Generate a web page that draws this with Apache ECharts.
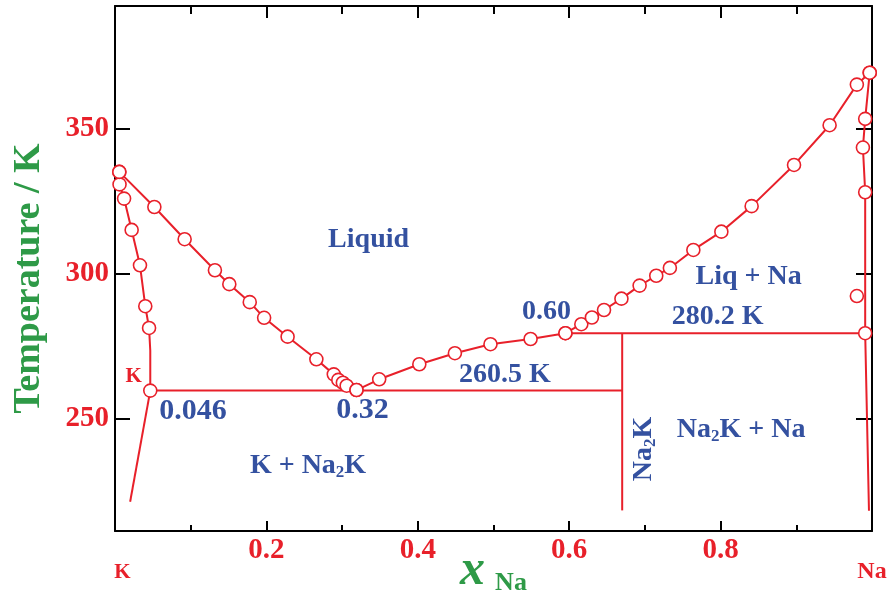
<!DOCTYPE html>
<html>
<head>
<meta charset="utf-8">
<script src="https://cdn.jsdelivr.net/npm/echarts@6/dist/echarts.min.js"></script>
<style>html,body{margin:0;padding:0;background:#fff}#c{width:891px;height:598px}</style>
</head>
<body>
<div id="c"></div>
<script>
// ---- data (x_Na, Temperature / K) ----
// K-rich solidus (marked points; index 7 is an unmarked bend)
const kSolidusX = [0.0057, 0.006, 0.012, 0.022, 0.033, 0.040, 0.045, 0.0466, 0.0466];
const kSolidusT = [335.1, 330.8, 325.9, 315.1, 302.9, 288.8, 281.3, 273.5, 259.7];
const kSolidusMarked = [1, 1, 1, 1, 1, 1, 1, 0, 1];
// K solidus below eutectic (no markers)
const kSolidusLowX = [0.0466, 0.020];
const kSolidusLowT = [259.7, 221.4];
// Liquidus, K side
const kLiquidusX = [0.0057, 0.052, 0.092, 0.132, 0.151, 0.178, 0.197, 0.228, 0.266, 0.289, 0.295, 0.301, 0.306, 0.319];
const kLiquidusT = [335.1, 323.0, 311.9, 301.2, 296.4, 290.2, 284.8, 278.3, 270.5, 265.3, 263.4, 262.4, 261.4, 259.9];
// Liquidus, Na2K branch
const na2kLiquidusX = [0.319, 0.349, 0.402, 0.449, 0.496, 0.549, 0.595];
const na2kLiquidusT = [259.9, 263.6, 268.8, 272.6, 275.7, 277.5, 279.5];
// Liquidus, Na side
const naLiquidusX = [0.595, 0.616, 0.630, 0.646, 0.669, 0.693, 0.715, 0.733, 0.764, 0.801, 0.841, 0.897, 0.944, 0.980, 0.997];
const naLiquidusT = [279.5, 282.6, 284.9, 287.5, 291.4, 295.9, 299.3, 302.0, 308.2, 314.5, 323.3, 337.5, 351.2, 365.2, 369.3];
// Na-rich solidus (last point unmarked)
const naSolidusX = [0.997, 0.991, 0.988, 0.991, 0.991, 0.996];
const naSolidusT = [369.3, 353.4, 343.5, 328.1, 279.5, 218.3];
const naSolidusMarked = [1, 1, 1, 1, 1, 0];
// isolated measured point
const naExtraX = [0.980];
const naExtraT = [292.3];
// invariant lines
const eutecticX = [0.0466, 0.670];
const eutecticT = [259.7, 259.7];
const peritecticX = [0.595, 0.991];
const peritecticT = [279.5, 279.5];
const na2kLineX = [0.670, 0.670];
const na2kLineT = [279.5, 218.4];

// axis ticks / labels
const xTickValues = [0, 0.2, 0.4, 0.6, 0.8, 1];
const xTickLabels = ['K', '0.2', '0.4', '0.6', '0.8', 'Na'];
const yTickValues = [250, 300, 350];
const yTickLabels = ['250', '300', '350'];

// annotations
const annoText = ['Liquid', 'Liq + Na', '280.2 K', '0.60', '260.5 K', '0.32', '0.046', 'K', 'K + Na{sub|2}K', 'Na{sub|2}K + Na', 'Na{sub|2}K'];
const annoX = [0.335, 0.837, 0.796, 0.570, 0.515, 0.327, 0.103, 0.0246, 0.255, 0.827, 0.698];
const annoT = [311.7, 298.9, 285.2, 286.8, 265.3, 252.8, 252.7, 264.4, 233.7, 246.1, 239.6];

// ---- styles ----
const RED = '#e8202a', GREEN = '#2e9a47', BLUE = '#3451a0';
const SERIF = "'Liberation Serif','Times New Roman',serif";

function pairs(xs, ts) { return xs.map((x, i) => [x, ts[i]]); }
function markedPairs(xs, ts, marks) {
  return xs.map((x, i) => marks[i] ? [x, ts[i]] : null).filter(p => p);
}

const lineStyle = { color: RED, width: 2 };
function lineSeries(xs, ts) {
  return { type: 'line', data: pairs(xs, ts), symbol: 'none', lineStyle: lineStyle,
    clip: false, z: 2, silent: true, animation: false };
}
const markerData = []
  .concat(markedPairs(kSolidusX, kSolidusT, kSolidusMarked))
  .concat(pairs(kLiquidusX, kLiquidusT))
  .concat(pairs(na2kLiquidusX, na2kLiquidusT))
  .concat(pairs(naLiquidusX, naLiquidusT))
  .concat(markedPairs(naSolidusX, naSolidusT, naSolidusMarked))
  .concat(pairs(naExtraX, naExtraT));

const subStyle = { fontSize: 17, fontWeight: 'bold', fontFamily: SERIF, color: BLUE, padding: [14, 0, 0, 0] };
const annoData = annoText.map((t, i) => {
  const item = { value: [annoX[i], annoT[i]], name: t };
  if (t === 'K') item.label = { color: RED, fontSize: 21 };
  if (t === '0.046' || t === '0.32') item.label = { fontSize: 30 };
  if (i === annoText.length - 1) item.label = { rotate: 90 };
  return item;
});

const tickStyle = { color: '#000', width: 2 };
const chart = echarts.init(document.getElementById('c'), null, { renderer: 'canvas' });
chart.setOption({
  animation: false,
  backgroundColor: '#fff',
  grid: { left: 115, right: 19, top: 6, bottom: 67, containLabel: false, outerBoundsMode: 'none' },
  xAxis: [{
    type: 'value', min: 0, max: 1, interval: 0.2, position: 'bottom',
    axisLine: { show: true, onZero: false, lineStyle: tickStyle },
    axisTick: { show: true, inside: true, length: 10, lineStyle: tickStyle },
    minorTick: { show: true, splitNumber: 2, length: 6, lineStyle: tickStyle },
    splitLine: { show: false }, minorSplitLine: { show: false },
    axisLabel: {
      customValues: xTickValues,
      formatter: v => {
        const i = xTickValues.findIndex(t => Math.abs(t - v) < 1e-9);
        const s = i >= 0 ? xTickLabels[i] : '';
        if (i === 0) return '{k|' + s + '}';
        if (i === xTickValues.length - 1) return '{na|' + s + '}';
        return s;
      },
      color: RED, fontSize: 29, fontWeight: 'bold', fontFamily: SERIF, margin: 5,
      rich: {
        k: { color: RED, fontSize: 21, fontWeight: 'bold', fontFamily: SERIF, padding: [26, 0, 0, 15] },
        na: { color: RED, fontSize: 24, fontWeight: 'bold', fontFamily: SERIF, padding: [24, 0, 0, 0] }
      }
    },
    name: '{x|x}{n|Na}', nameLocation: 'middle', nameGap: 15, nameMoveOverlap: false,
    nameTextStyle: {
      rich: {
        x: { color: GREEN, fontSize: 50, fontWeight: 'bold', fontStyle: 'italic', fontFamily: SERIF },
        n: { color: GREEN, fontSize: 26, fontWeight: 'bold', fontFamily: SERIF, padding: [24, 0, 0, 10] }
      }
    }
  }, {
    type: 'value', min: 0, max: 1, interval: 0.2, position: 'top',
    axisLine: { show: true, onZero: false, lineStyle: tickStyle },
    axisTick: { show: true, inside: true, length: 12, lineStyle: tickStyle },
    minorTick: { show: true, splitNumber: 2, length: 8, lineStyle: tickStyle },
    splitLine: { show: false }, minorSplitLine: { show: false },
    axisLabel: { show: false }
  }],
  yAxis: [{
    type: 'value', min: 211.3, max: 392.3, position: 'left',
    axisLine: { show: true, onZero: false, lineStyle: tickStyle },
    axisTick: { show: true, inside: true, length: 15, customValues: yTickValues, lineStyle: tickStyle },
    splitLine: { show: false },
    axisLabel: {
      customValues: yTickValues,
      formatter: v => { const i = yTickValues.indexOf(v); return i >= 0 ? yTickLabels[i] : ''; },
      color: RED, fontSize: 29, fontWeight: 'bold', fontFamily: SERIF, margin: 6
    },
    name: 'Temperature / K', nameLocation: 'middle', nameRotate: 90, nameGap: 67, nameMoveOverlap: false,
    nameTextStyle: { color: GREEN, fontSize: 38, fontWeight: 'bold', fontFamily: SERIF, padding: [0, 20, 0, 0] }
  }, {
    type: 'value', min: 211.3, max: 392.3, position: 'right',
    axisLine: { show: true, onZero: false, lineStyle: tickStyle },
    axisTick: { show: true, inside: true, length: 16, customValues: yTickValues, lineStyle: tickStyle },
    splitLine: { show: false },
    axisLabel: { show: false }
  }],
  series: [
    lineSeries(kSolidusX, kSolidusT),
    lineSeries(kSolidusLowX, kSolidusLowT),
    lineSeries(kLiquidusX, kLiquidusT),
    lineSeries(na2kLiquidusX, na2kLiquidusT),
    lineSeries(naLiquidusX, naLiquidusT),
    lineSeries(naSolidusX, naSolidusT),
    lineSeries(eutecticX, eutecticT),
    lineSeries(peritecticX, peritecticT),
    lineSeries(na2kLineX, na2kLineT),
    {
      type: 'scatter', data: markerData, symbol: 'circle', symbolSize: 13, clip: false, z: 4, silent: true,
      itemStyle: { color: '#fff', borderColor: RED, borderWidth: 1.6, opacity: 1 }
    },
    {
      type: 'scatter', data: annoData, symbolSize: 1, z: 5, silent: true,
      itemStyle: { color: 'rgba(0,0,0,0)', opacity: 1 },
      label: {
        show: true, position: 'inside', formatter: p => p.name, opacity: 1,
        color: BLUE, fontSize: 28, fontWeight: 'bold', fontFamily: SERIF,
        rich: { sub: subStyle }
      }
    }
  ]
});
</script>
</body>
</html>
